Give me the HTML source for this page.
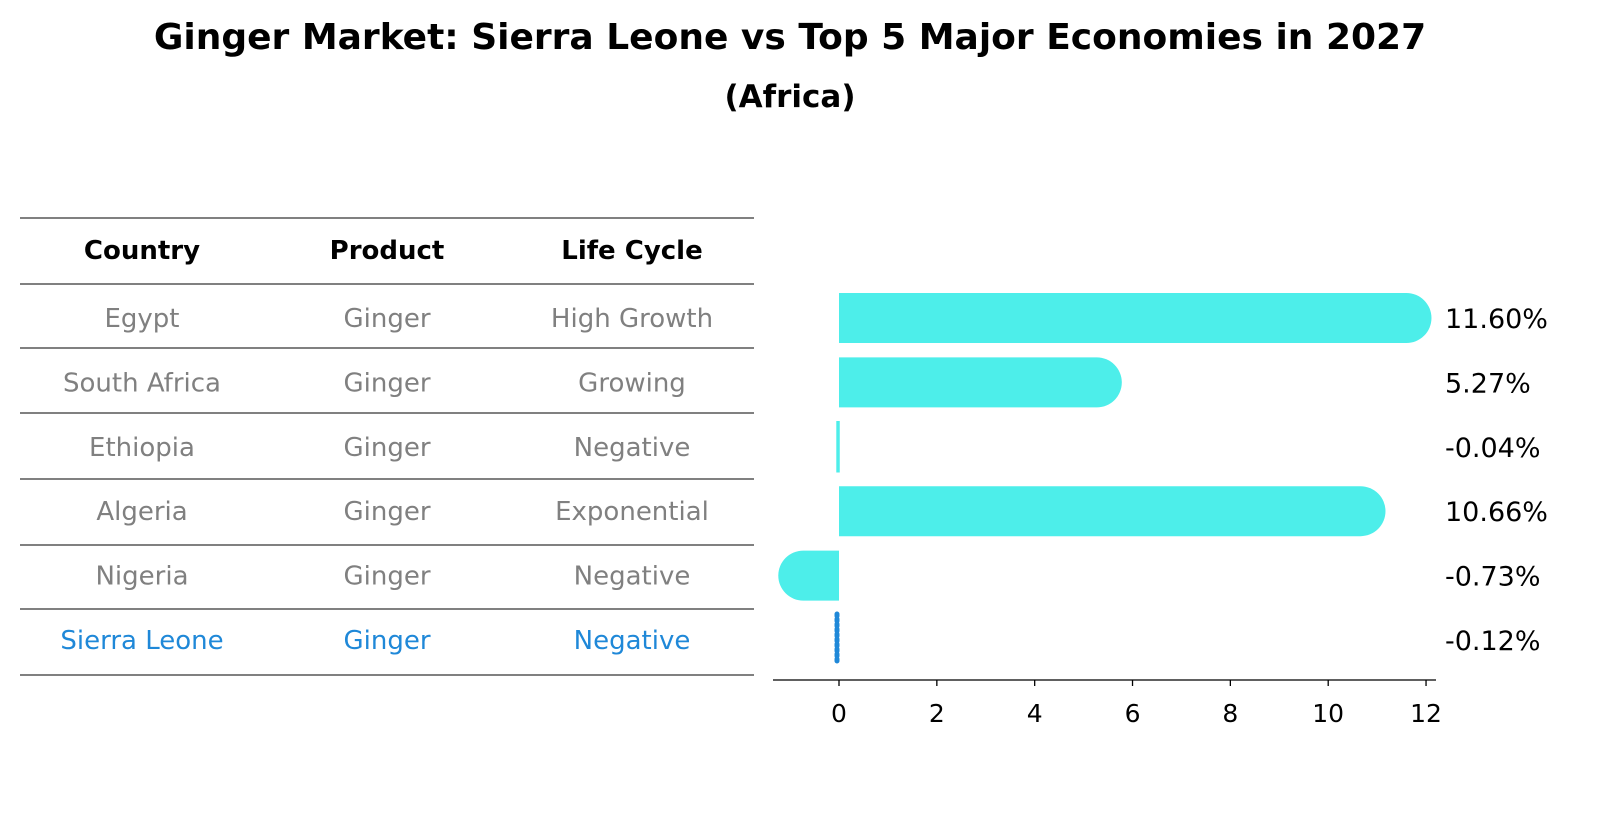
<!DOCTYPE html>
<html><head><meta charset="utf-8"><style>
html,body{margin:0;padding:0;overflow:hidden;background:#fff;width:1604px;height:823px;}
svg{display:block;}
</style></head><body>
<svg width="1604" height="823" viewBox="0 0 1604 823" xmlns="http://www.w3.org/2000/svg" font-family="DejaVu Sans, Liberation Sans, sans-serif">
<text x="790" y="49" text-anchor="middle" font-size="36" font-weight="bold">Ginger Market: Sierra Leone vs Top 5 Major Economies in 2027</text>
<text x="790" y="107" text-anchor="middle" font-size="31" font-weight="bold">(Africa)</text>
<g id="table"></g>
<g id="bars"></g>
</svg>
<script>
const countries=["Egypt","South Africa","Ethiopia","Algeria","Nigeria","Sierra Leone"];
const products=["Ginger","Ginger","Ginger","Ginger","Ginger","Ginger"];
const cycles=["High Growth","Growing","Negative","Exponential","Negative","Negative"];
const values=[11.60,5.27,-0.04,10.66,-0.73,-0.12];
const ticks=[0,2,4,6,8,10,12];
const NS="http://www.w3.org/2000/svg";
function mk(tag,attrs,parent,text){const e=document.createElementNS(NS,tag);for(const k in attrs)e.setAttribute(k,attrs[k]);if(text!==undefined)e.textContent=text;parent.appendChild(e);return e;}
const tbl=document.getElementById('table');
const lineYs=[218,284,348,413,479,545,609,675];
lineYs.forEach((y,i)=>{const l=mk('line',{x1:20,x2:754,y1:y,y2:y,stroke:'#000','stroke-width':1},tbl);

});
const colX=[142,387,632];
["Country","Product","Life Cycle"].forEach((h,i)=>{const t=mk('text',{x:colX[i],y:259,'text-anchor':'middle','font-size':26,'font-weight':'bold'},tbl,h);

});
const rowY=i=>318+i*64.4;
countries.forEach((c,i)=>{const col=i===countries.length-1?'#1f88d8':'#808080';
[c,products[i],cycles[i]].forEach((v,j)=>{const t=mk('text',{x:colX[j],y:rowY(i)+9,'text-anchor':'middle','font-size':26,fill:col},tbl,v);

});});
const g=document.getElementById('bars');
const x0=839,pu=48.92;const xs=v=>x0+v*pu;
const bh=50,r=25;
values.forEach((v,i)=>{const cy=rowY(i);
if(i===values.length-1){const l=mk('line',{x1:837,x2:837,y1:cy-26,y2:cy+24,stroke:'#1f88d8','stroke-width':5,'stroke-dasharray':'2 3','stroke-linecap':'round'},g);

}
else{const xe=xs(v);let d;
if(Math.abs(v)<0.2){d=`M${x0} ${cy-bh/2}H${xe}V${cy+bh/2}H${x0}Z`;}
else if(v>0){d=`M${x0} ${cy-bh/2}H${xe}A${r} ${r} 0 0 1 ${xe} ${cy+bh/2}H${x0}Z`;}
else{d=`M${x0} ${cy-bh/2}H${xe}A${r} ${r} 0 0 0 ${xe} ${cy+bh/2}H${x0}Z`;}
const p=mk('path',{d:d,fill:'#4deeea',stroke:Math.abs(v)<0.2?'#4deeea':'none','stroke-width':1.5},g);

}
const t=mk('text',{x:1445,y:cy+10,'font-size':27},g,v.toFixed(2)+'%');

});
const ax=mk('line',{x1:773,x2:1436,y1:680,y2:680,stroke:'#000','stroke-width':1.3},g);


ticks.forEach(tv=>{const x=xs(tv);const tk=mk('line',{x1:x,x2:x,y1:680,y2:686,stroke:'#000','stroke-width':1.3},g);


const t=mk('text',{x:x,y:722,'text-anchor':'middle','font-size':25},g,String(tv));

});
</script>
</body></html>
